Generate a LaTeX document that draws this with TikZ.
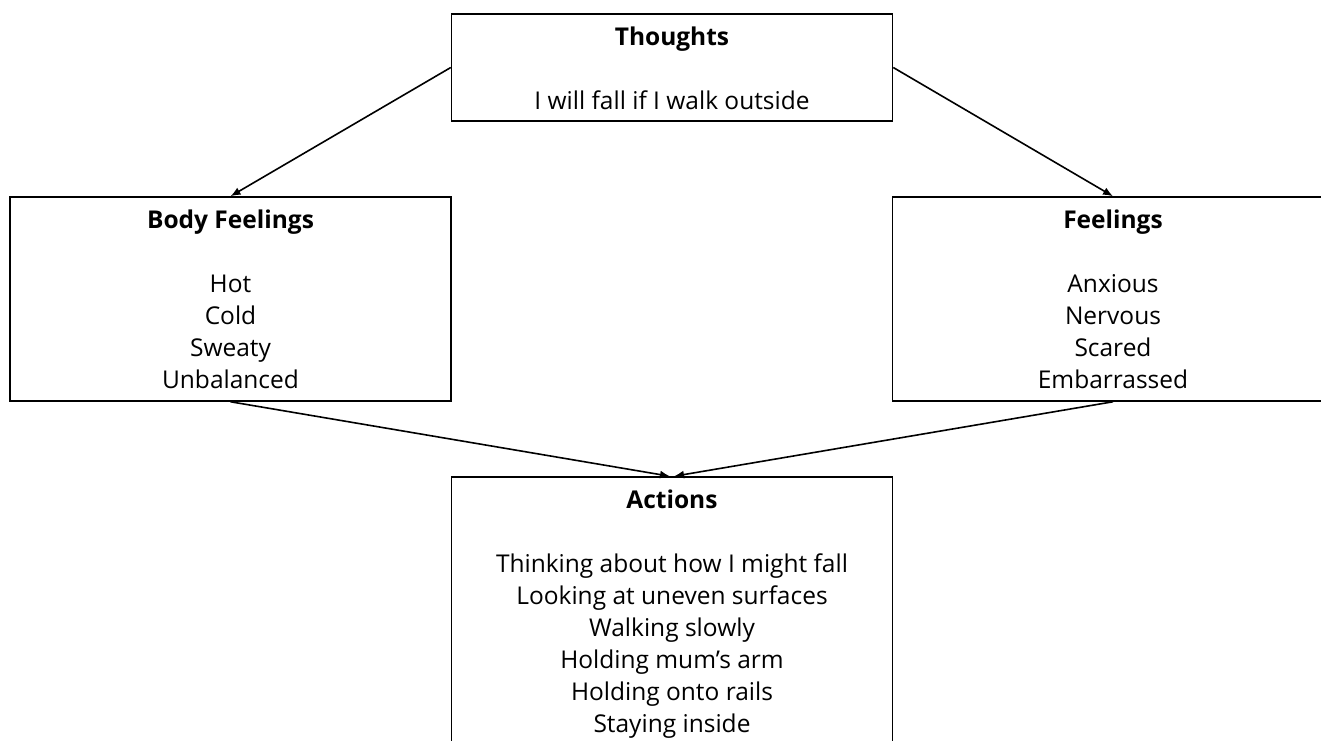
\documentclass[tikz,border=0pt]{standalone}
\usepackage{fontspec}
\setmainfont{Open Sans}
\usetikzlibrary{arrows.meta}

\begin{document}
\begin{tikzpicture}[x=1pt,y=-1pt,
		box/.style={draw=black, line width=1.5pt, minimum width=441pt, inner sep=0pt},
		boxtext/.style={anchor=north, inner sep=0pt, align=center, font=\fontsize{24.5}{32}\selectfont, yshift=-13.5pt},
		link/.style={-{Latex[length=10pt,width=8pt]}, line width=1.6pt}]
		\useasboundingbox (0,0) rectangle (1321,740);
		\clip (0,0) rectangle (1321,740);
		% the four boxes
		\node [box, minimum height=107pt] (thoughts) at (672,67.5) {};
		\node [box, minimum height=204pt] (body) at (230.5,299) {};
		\node [box, minimum height=204pt] (feel) at (1113,299) {};
		\node [box, minimum height=300pt] (actions) at (672,627) {};
		% texts
		\node [boxtext] (thoughtstext) at (thoughts.north) {\textbf{Thoughts}\\[32pt] I will fall if I walk outside};
		\node [boxtext] (bodytext) at (body.north) {\textbf{Body Feelings}\\[32pt] Hot\\ Cold\\ Sweaty\\ Unbalanced};
		\node [boxtext] (feeltext) at (feel.north) {\textbf{Feelings}\\[32pt] Anxious\\ Nervous\\ Scared\\ Embarrassed};
		\node [boxtext] (actionstext) at (actions.north) {\textbf{Actions}\\[32pt] Thinking about how I might fall\\ Looking at uneven surfaces\\ Walking slowly\\ Holding mum’s arm\\ Holding onto rails\\ Staying inside};
		% arrows
		\draw [link] (thoughts.west) -- (body.north);
		\draw [link] (thoughts.east) -- (feel.north);
		\draw [link] (body.south) -- ([xshift=-2pt]actions.north);
		\draw [link] (feel.south) -- ([xshift=2pt]actions.north);
	\end{tikzpicture}
\end{document}
